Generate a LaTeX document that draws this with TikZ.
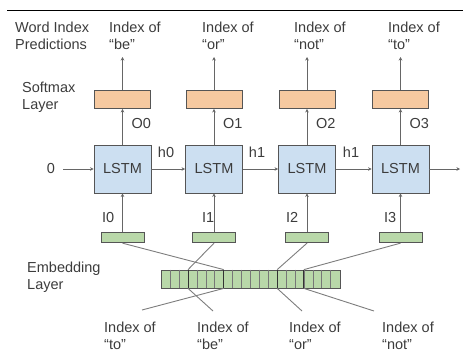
\documentclass[tikz,border=0pt]{standalone}
\usepackage{fontspec}
\setmainfont{Liberation Sans}
\usetikzlibrary{arrows.meta}
\definecolor{softfill}{HTML}{F6C9A0}
\definecolor{lstmfill}{HTML}{CCDFF1}
\definecolor{embfill}{HTML}{B9D8A9}
\definecolor{boxline}{HTML}{555555}
\definecolor{wire}{HTML}{666666}
\definecolor{txt}{HTML}{3C3C3C}
\tikzset{
  lbl/.style={inner sep=0pt, text=txt, font=\fontsize{14.5}{16.5}\selectfont, align=left},
  softbox/.style={draw=boxline, fill=softfill, line width=0.9pt, minimum width=56pt, minimum height=18pt, inner sep=0pt},
  lstmbox/.style={draw=boxline, fill=lstmfill, line width=0.9pt, minimum width=57pt, minimum height=48pt, inner sep=0pt, text=txt, font=\fontsize{14.5}{16.5}\selectfont},
  embsmall/.style={draw=boxline, fill=embfill, line width=0.8pt, minimum width=43pt, minimum height=10.5pt, inner sep=0pt},
  embbig/.style={draw=boxline, fill=embfill, line width=0.8pt, minimum width=178.3pt, minimum height=18pt, inner sep=0pt},
  arr/.style={draw=wire, line width=0.8pt, -{Stealth[length=3.5pt,width=3.5pt]}},
  wireline/.style={draw=wire!85, line width=0.9pt},
}
\begin{document}
\begin{tikzpicture}[x=1pt,y=-1pt]
\useasboundingbox (0,0) rectangle (463,351);
\draw[line width=0.9pt] (7,10.5) -- (463,10.5);

% top labels
\node[lbl, anchor=north west] (wip) at (15,22) {Word Index\\Predictions};
\node[lbl, anchor=north west] (t0) at (109,22) {Index of\\“be”};
\node[lbl, anchor=north west] (t1) at (202,22) {Index of\\“or”};
\node[lbl, anchor=north west] (t2) at (294,22) {Index of\\“not”};
\node[lbl, anchor=north west] (t3) at (388,22) {Index of\\“to”};
\node[lbl, anchor=north west] (sml) at (22,82) {Softmax\\Layer};
\node[lbl, anchor=north west] (eml) at (27,262) {Embedding\\Layer};

% softmax boxes
\node[softbox] (s0) at (122.5,99.5) {};
\node[softbox] (s1) at (214,99.5) {};
\node[softbox] (s2) at (307,99.5) {};
\node[softbox] (s3) at (400.5,99.5) {};

% top arrow ends
\coordinate (p0) at (122.5,57);
\coordinate (p1) at (214,57);
\coordinate (p2) at (307,57);
\coordinate (p3) at (400.5,57);

% LSTM boxes
\node[lstmbox] (l0) at (122.5,169) {LSTM};
\node[lstmbox] (l1) at (214,169) {LSTM};
\node[lstmbox] (l2) at (307,169) {LSTM};
\node[lstmbox] (l3) at (400.5,169) {LSTM};

% small embedding boxes
\node[embsmall] (e0) at (122.5,237.5) {};
\node[embsmall] (e1) at (214,237.5) {};
\node[embsmall] (e2) at (307,237.5) {};
\node[embsmall] (e3) at (400.5,237.5) {};

% embedding layer
\node[embbig] (emb) at (250.85,279) {};
\foreach \k in {1,...,19} {
  \draw[boxline!80, line width=0.6pt] ([xshift=\k*8.915pt]emb.north west) -- ([xshift=\k*8.915pt]emb.south west);
}
\foreach \k in {3,7,13,16} {
  \draw[boxline!60!black, line width=0.9pt] ([xshift=\k*8.915pt]emb.north west) -- ([xshift=\k*8.915pt]emb.south west);
}

% arrows up
\foreach \i in {0,1,2,3} {
  \draw[arr] (s\i.north) -- (p\i);
  \draw[arr] (l\i.north) -- (s\i.south);
  \draw[arr] (e\i.north) -- (l\i.south);
}

% recurrent arrows
\node[lbl, anchor=base] (zero) at (51,173.5) {0};
\coordinate (zin) at (63,169);
\coordinate (zout) at (460,169);
\draw[arr] (zin) -- (l0.west);
\draw[arr] (l0.east) -- (l1.west);
\draw[arr] (l1.east) -- (l2.west);
\draw[arr] (l2.east) -- (l3.west);
\draw[arr] (l3.east) -- (zout);

% labels
\node[lbl, anchor=base west] (o0) at (131.5,128) {O0};
\node[lbl, anchor=base west] (o1) at (223,128) {O1};
\node[lbl, anchor=base west] (o2) at (316,128) {O2};
\node[lbl, anchor=base west] (o3) at (409.5,128) {O3};
\node[lbl, anchor=base] (h0) at (166,157) {h0};
\node[lbl, anchor=base] (h1) at (257,157) {h1};
\node[lbl, anchor=base] (h2) at (351,157) {h1};
\node[lbl, anchor=base west] (i0) at (102,222) {I0};
\node[lbl, anchor=base west] (i1) at (202,222) {I1};
\node[lbl, anchor=base west] (i2) at (286,222) {I2};
\node[lbl, anchor=base west] (i3) at (384,222) {I3};

% bottom labels
\node[lbl, anchor=north west] (b0) at (104,322) {Index of\\“to”};
\node[lbl, anchor=north west] (b1) at (197,322) {Index of\\“be”};
\node[lbl, anchor=north west] (b2) at (289,322) {Index of\\“or”};
\node[lbl, anchor=north west] (b3) at (382,322) {Index of\\“not”};
\coordinate (w0) at (142,310);
\coordinate (w1) at (213,311);
\coordinate (w2) at (302,311);
\coordinate (w3) at (374,311);

% connectors to embedding layer
\draw[wireline] (e0.south) -- ([xshift=62.4pt]emb.north west);
\draw[wireline] (e1.south) -- ([xshift=26.75pt]emb.north west);
\draw[wireline] (e2.south) -- ([xshift=115.9pt]emb.north west);
\draw[wireline] (e3.south) -- ([xshift=142.64pt]emb.north west);
\draw[wireline] ([xshift=62.4pt]emb.south west) -- (w0);
\draw[wireline] ([xshift=26.75pt]emb.south west) -- (w1);
\draw[wireline] ([xshift=115.9pt]emb.south west) -- (w2);
\draw[wireline] ([xshift=142.64pt]emb.south west) -- (w3);
\end{tikzpicture}
\end{document}
